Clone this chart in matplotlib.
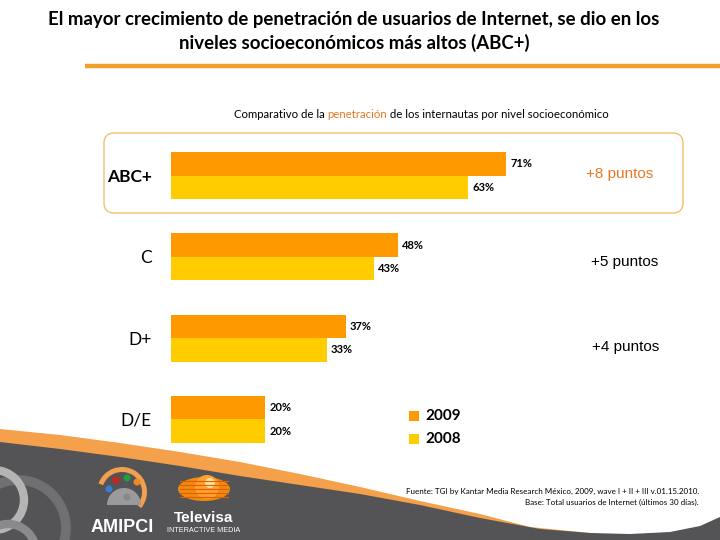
import numpy as np
import matplotlib
matplotlib.use("Agg")
import matplotlib.pyplot as plt
from matplotlib.patches import FancyBboxPatch, Polygon, Circle, Ellipse, Wedge, Rectangle

# ---------------- datos ----------------
niveles = ["ABC+", "C", "D+", "D/E"]
v2009 = [71, 48, 37, 20]
v2008 = [63, 43, 33, 20]
puntos = ["+8 puntos", "+5 puntos", "+4 puntos"]
anios = ["2009", "2008"]

NAR = "#FF9900"
AMA = "#FFCC00"
FONT = "Lato"

fig = plt.figure(figsize=(7.2, 5.4), dpi=100)

# capa de fondo en pixeles
bg = fig.add_axes([0, 0, 1, 1], zorder=0)
bg.set_xlim(0, 720)
bg.set_ylim(540, 0)
bg.axis("off")

# titulo
bg.text(354, 20, "El mayor crecimiento de penetración de usuarios de Internet, se dio en los",
        ha="center", va="center", fontsize=13.4, fontweight="bold", family=FONT)
bg.text(354, 43, "niveles socioeconómicos más altos (ABC+)",
        ha="center", va="center", fontsize=13.4, fontweight="bold", family=FONT)
bg.plot([85, 720], [66, 66], color="#F0A028", lw=3.2, solid_capstyle="butt")

# subtitulo con palabra en naranja
partes = [("Comparativo de la ", "black"), ("penetración", "#E87722"),
          (" de los internautas por nivel socioeconómico", "black")]
fig.canvas.draw()
r = fig.canvas.get_renderer()
anchos = []
for s, c in partes:
    t = bg.text(0, 0, s, fontsize=8.2, family=FONT)
    bb = t.get_window_extent(renderer=r)
    anchos.append(bb.width)
    t.remove()
x0 = 421 - sum(anchos) / 2
for (s, c), w in zip(partes, anchos):
    bg.text(x0, 115, s, color=c, fontsize=8.2, family=FONT, va="center", ha="left")
    x0 += w

# caja redondeada ABC+
bg.add_patch(FancyBboxPatch((104, 133), 579, 80, boxstyle="round,pad=0,rounding_size=10",
                            fc="none", ec="#F2C070", lw=1.0))

# onda inferior
xs_o = [0, 60, 120, 180, 240, 300, 360, 420, 480, 530]
ys_o = [429, 435, 443, 452, 462, 474, 487, 501, 514, 527]
xs_g = [720, 700, 670, 630, 590, 540, 480, 420, 360, 300, 240, 180, 120, 60, 0]
ys_g = [517, 526, 532, 534, 533, 529, 518, 505, 494, 485, 476, 466, 457, 449, 442]
bg.add_patch(Polygon(list(zip(xs_o, ys_o)) + [(600, 534), (720, 540), (0, 540)],
                     closed=True, fc="#F5A04A", ec="none"))
bg.add_patch(Polygon(list(zip(xs_g, ys_g)) + [(0, 540), (720, 540)],
                     closed=True, fc="#545457", ec="none"))
# anillos
bg.add_patch(Circle((18, 528), 48, fc="none", ec="#707073", lw=7))
bg.add_patch(Circle((-6, 500), 30, fc="none", ec="#b4b4b4", lw=6))
bg.add_patch(Circle((8, 552), 28, fc="none", ec="#8a8a8c", lw=6))

# logo AMIPCI
bg.add_patch(Wedge((122, 492), 25, 200, 400, width=5, fc="#F0A050", ec="none"))
bg.add_patch(Wedge((124, 505), 17, 180, 360, fc="#9a9a9c", ec="none"))
for (cx, cy, cc) in [(109, 489, "#3a7bd5"), (116, 480, "#d02020"), (127, 478, "#20a040"), (137, 482, "#f08a20"),
                     (127, 497, "#888888")]:
    bg.add_patch(Circle((cx, cy), 3.5, fc=cc, ec="none"))
bg.text(122, 527, "AMIPCI", color="white", fontsize=13, fontweight="heavy",
        family="Liberation Sans", ha="center", va="center")

# logo Televisa
bg.add_patch(Ellipse((204, 489), 52, 24, fc="#F08A10", ec="none"))
for yy in [481, 485, 489, 493, 497]:
    bg.plot([180, 228], [yy, yy], color="#E06000", lw=0.8)
bg.add_patch(Circle((207, 487), 12, fc="#FFA030", ec="none"))
bg.add_patch(Circle((210, 483), 5, fc="#FFE0A0", ec="none"))
bg.text(204, 518, "Televisa", color="white", fontsize=11, fontweight="bold",
        family="Liberation Sans", ha="center", va="center")
bg.text(204, 531, "INTERACTIVE MEDIA", color="white", fontsize=5.2,
        family="Liberation Sans", ha="center", va="center")

# fuente
bg.text(699, 491, "Fuente: TGI by Kantar Media Research México, 2009, wave I + II + III v.01.15.2010.",
        fontsize=5.8, family=FONT, ha="right", va="center")
bg.text(699, 502, "Base: Total usuarios de Internet (últimos 30 días).",
        fontsize=5.8, family=FONT, ha="right", va="center")

# puntos
pos_p = [(620, 174), (625, 262), (626, 347)]
for i, (s, (px, py)) in enumerate(zip(puntos, pos_p)):
    bg.text(px, py, s, color="#E87722" if i == 0 else "black", fontsize=11,
            family="Liberation Sans", ha="center", va="center")

# leyenda
for s, c, yy in zip(anios, [NAR, AMA], [416, 439]):
    bg.add_patch(Rectangle((409, yy - 5), 10, 10, fc=c, ec="none"))
    bg.text(425, yy, s, fontsize=11, fontweight="bold", family=FONT, va="center", ha="left")

# ---------------- barras ----------------
ax = fig.add_axes([171 / 720, 80 / 540, 472 / 720, 320 / 540], zorder=2)
ax.patch.set_alpha(0)
ax.set_xlim(0, 100)
ax.set_ylim(3.5, -0.437)
y = np.arange(len(niveles))
h = 0.29
ax.barh(y - h / 2, v2009, height=h, color=NAR)
ax.barh(y + h / 2, v2008, height=h, color=AMA)
for i in range(len(niveles)):
    ax.text(v2009[i] + 0.9, y[i] - h / 2, f"{v2009[i]}%", fontsize=8, fontweight="bold",
            family=FONT, va="center", ha="left")
    ax.text(v2008[i] + 0.9, y[i] + h / 2, f"{v2008[i]}%", fontsize=8, fontweight="bold",
            family=FONT, va="center", ha="left")
ax.set_yticks(y)
ax.set_yticklabels(niveles, family=FONT, fontsize=12.5)
ax.get_yticklabels()[0].set_fontweight("bold")
ax.tick_params(axis="y", length=0, pad=14)
ax.set_xticks([])
for sp in ax.spines.values():
    sp.set_visible(False)

fig.savefig("out.png", dpi=100)
